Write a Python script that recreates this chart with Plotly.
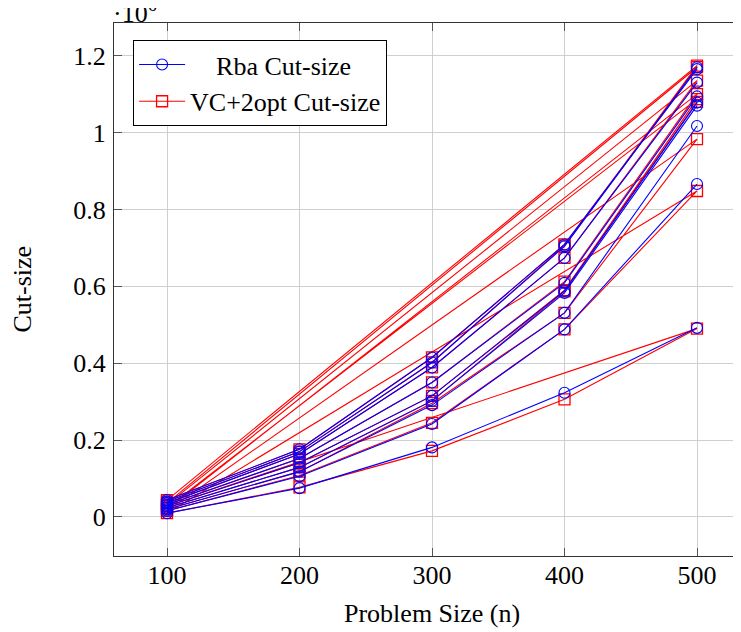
import plotly.graph_objects as go

# Table rows in file order (each instance family: n = 100..500)
problem_size = [100, 200, 300, 400, 500,
                100, 200, 300, 400, 500,
                100, 200, 300, 400, 500,
                100, 200, 300, 400, 500,
                100, 200, 300, 400, 500,
                100, 200, 300, 400, 500,
                100, 200, 300, 400, 500,
                100, 200, 300, 400, 500,
                100, 200, 300, 400, 500]

rba_cut = [40000, 170000, 402000, 704000, 1170000,
           44000, 176000, 415000, 709000, 1165000,
           36000, 164000, 389000, 674000, 1130000,
           32000, 152000, 350000, 609000, 1094000,
           20000, 118000, 291000, 531000, 1017000,
           16000, 106000, 242000, 488000, 866000,
           10000, 75000, 181000, 323000, 492000,
           28000, 141000, 315000, 588000, 1078000,
           24000, 129000, 302000, 583000, 1070000]

vc2opt_cut = [40000, 170000, 402000, 706000, 1174000,
              44000, 176000, 415000, 709000, 1170000,
              36000, 164000, 389000, 674000, 1135000,
              32000, 152000, 350000, 612000, 1100000,
              20000, 118000, 296000, 531000, 983000,
              16000, 108000, 245000, 488000, 848000,
              10000, 77000, 172000, 306000, 490000,
              28000, 141000, 315000, 590000, 1087000,
              24000, 129000, 302000, 587000, 1080000]

x_ticks = [100, 200, 300, 400, 500]
y_ticks = [0, 0.2, 0.4, 0.6, 0.8, 1.0, 1.2]
y_tick_labels = ["0", "0.2", "0.4", "0.6", "0.8", "1", "1.2"]

SCALE = 1e6
FONT = "Liberation Serif, Times New Roman, serif"
NB = "\u00a0"

# Rba: separate runs per instance family (break where n restarts)
bx, by = [], []
for i, (n, v) in enumerate(zip(problem_size, rba_cut)):
    if i > 0 and n < problem_size[i - 1]:
        bx.append(None)
        by.append(None)
    bx.append(n)
    by.append(v / SCALE)

rx = list(problem_size)
ry = [v / SCALE for v in vc2opt_cut]

fig = go.Figure()
fig.add_trace(go.Scatter(
    x=rx, y=ry, mode="lines+markers", name="VC+2opt Cut-size",
    line=dict(color="#ff0000", width=1.1),
    marker=dict(symbol="square-open", size=11, color="#ff0000", line=dict(width=1.3)),
    legendrank=2,
))
fig.add_trace(go.Scatter(
    x=bx, y=by, mode="lines+markers", name=NB * 4 + "Rba Cut-size",
    line=dict(color="#0000ff", width=1.1),
    marker=dict(symbol="circle-open", size=11, color="#0000ff", line=dict(width=1.1)),
    connectgaps=False, legendrank=1,
))

# the page body adds an 8px offset; plot area is placed to match the reference
fig.update_layout(
    width=742, height=624,
    margin=dict(l=106, r=0, t=15, b=76, autoexpand=False),
    paper_bgcolor="white", plot_bgcolor="white",
    font=dict(family=FONT, size=26, color="black"),
    showlegend=True,
    legend=dict(
        x=0.030, y=0.968, xanchor="left", yanchor="top",
        bgcolor="white", bordercolor="black", borderwidth=1,
        font=dict(family=FONT, size=26), itemwidth=46,
        tracegroupgap=0,
    ),
    xaxis=dict(
        range=[60, 540], tickvals=x_ticks, ticks="inside", ticklen=8,
        tickcolor="#555555", tickwidth=1,
        showgrid=True, gridcolor="#cfcfcf", gridwidth=1,
        showline=True, linecolor="#333333", linewidth=1.3, mirror="ticks",
        zeroline=False, ticklabelstandoff=-4, automargin=False,
    ),
    yaxis=dict(
        range=[-0.1015, 1.285], tickvals=y_ticks, ticktext=y_tick_labels,
        ticks="inside", ticklen=8, tickcolor="#555555", tickwidth=1,
        showgrid=True, gridcolor="#cfcfcf", gridwidth=1,
        showline=True, linecolor="#333333", linewidth=1.3, mirror="ticks",
        zeroline=False, ticklabelstandoff=2, automargin=False,
    ),
    annotations=[
        dict(text="·10<sup>6</sup>", xref="paper", yref="paper",
             x=0.0, y=1.0, xanchor="left", yanchor="bottom", yshift=-7, xshift=-3,
             showarrow=False, font=dict(family=FONT, size=26)),
        dict(text="Problem Size (n)", xref="paper", yref="paper",
             x=0.5, y=-57 / 533, xanchor="center", yanchor="middle",
             showarrow=False, font=dict(family=FONT, size=26)),
        dict(text="Cut-size", xref="paper", yref="paper",
             x=(14 - 106) / 636, y=0.5, xanchor="center", yanchor="middle",
             textangle=-90, showarrow=False, font=dict(family=FONT, size=26)),
    ],
)

fig.write_html("out.html")
